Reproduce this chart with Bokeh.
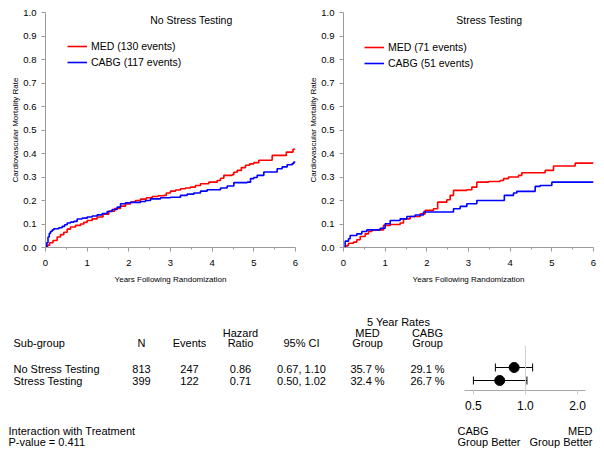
from bokeh.plotting import figure
from bokeh.layouts import row, column
from bokeh.models import (Range1d, FixedTicker, NumeralTickFormatter, Label, Span,
                          Whisker, ColumnDataSource, TeeHead)
from bokeh.core.properties import value
from bokeh.embed import file_html
from bokeh.resources import INLINE

FONT = "Liberation Sans"

# ---------------- data ----------------
# No stress testing
ns_med_t = [0, 0.05, 0.1, 0.18, 0.28, 0.36, 0.44, 0.52, 0.6, 0.72,
            0.84, 0.92, 1.0, 1.12, 1.24, 1.38, 1.52, 1.66, 1.8, 1.92,
            2.04, 2.16, 2.28, 2.42, 2.56, 2.7, 2.84, 2.9, 3.0, 3.12,
            3.24, 3.36, 3.48, 3.6, 3.72, 3.92, 4.12, 4.2, 4.28, 4.48,
            4.52, 4.6, 4.7, 4.8, 4.9, 5.0, 5.12, 5.44, 5.78, 5.94, 6.0]
ns_med_r = [0, 0.01, 0.02, 0.03, 0.045, 0.055, 0.065, 0.078, 0.087, 0.094,
            0.10, 0.107, 0.115, 0.122, 0.13, 0.142, 0.155, 0.166, 0.176, 0.185,
            0.193, 0.2, 0.206, 0.212, 0.217, 0.22, 0.222, 0.232, 0.24, 0.245,
            0.25, 0.253, 0.257, 0.264, 0.271, 0.278, 0.285, 0.295, 0.307, 0.31,
            0.32, 0.328, 0.34, 0.35, 0.356, 0.361, 0.371, 0.392, 0.406, 0.418, 0.418]
ns_cabg_t = [0, 0.03, 0.06, 0.09, 0.12, 0.16, 0.2, 0.32, 0.4, 0.46,
             0.52, 0.6, 0.68, 0.76, 0.88, 1.0, 1.12, 1.24, 1.36, 1.48,
             1.6, 1.72, 1.8, 1.92, 2.04, 2.28, 2.4, 2.52, 2.76, 3.0,
             3.24, 3.4, 3.56, 3.72, 3.88, 4.2, 4.36, 4.52, 4.84, 4.92,
             5.0, 5.08, 5.24, 5.56, 5.68, 5.8, 5.92, 5.96, 6.0]
ns_cabg_r = [0, 0.02, 0.045, 0.06, 0.068, 0.075, 0.08, 0.084, 0.09, 0.097,
             0.104, 0.108, 0.111, 0.121, 0.125, 0.13, 0.134, 0.139, 0.145, 0.153,
             0.162, 0.172, 0.186, 0.19, 0.192, 0.196, 0.2, 0.207, 0.212, 0.214,
             0.222, 0.227, 0.232, 0.24, 0.246, 0.253, 0.262, 0.276, 0.278, 0.293,
             0.298, 0.307, 0.321, 0.335, 0.343, 0.352, 0.357, 0.364, 0.364]

# Stress testing
st_med_t = [0, 0.08, 0.12, 0.24, 0.32, 0.4, 0.52, 0.6, 0.68, 0.96,
            1.12, 1.36, 1.44, 1.6, 1.84, 1.96, 2.16, 2.26, 2.48, 2.56,
            2.64, 2.96, 3.08, 3.2, 3.48, 3.76, 3.84, 3.96, 4.2, 4.28,
            4.84, 5.04, 5.56, 6.0]
st_med_r = [0, 0.009, 0.018, 0.023, 0.033, 0.047, 0.058, 0.068, 0.075, 0.094,
            0.098, 0.104, 0.122, 0.132, 0.143, 0.158, 0.165, 0.193, 0.203, 0.222,
            0.243, 0.246, 0.257, 0.278, 0.281, 0.285, 0.293, 0.30, 0.307, 0.318,
            0.328, 0.347, 0.359, 0.359]
st_cabg_t = [0, 0.04, 0.12, 0.16, 0.32, 0.44, 0.56, 0.88, 1.0, 1.12,
             1.36, 1.52, 1.72, 1.92, 2.64, 2.8, 2.96, 3.2, 3.86, 4.08,
             4.16, 4.6, 4.72, 5.0, 6.0]
st_cabg_r = [0, 0.027, 0.037, 0.051, 0.058, 0.068, 0.075, 0.082, 0.101, 0.115,
             0.122, 0.132, 0.138, 0.151, 0.165, 0.175, 0.186, 0.2, 0.222, 0.232,
             0.239, 0.26, 0.264, 0.278, 0.278]

x_ticks = [0, 1, 2, 3, 4, 5, 6]
x_minor = [0.5, 1.5, 2.5, 3.5, 4.5, 5.5]
y_ticks = [0, 0.1, 0.2, 0.3, 0.4, 0.5, 0.6, 0.7, 0.8, 0.9, 1.0]

# table / forest
subgroups = ["No Stress Testing", "Stress Testing"]
n_pts = [813, 399]
events = [247, 122]
hr = [0.86, 0.71]
ci_lo = [0.67, 0.50]
ci_hi = [1.10, 1.02]
rate_med = [35.7, 32.4]
rate_cabg = [29.1, 26.7]
p_interaction = 0.411
forest_ticks = [0.5, 1.0, 2.0]

AXIS_GRAY = "#9a9a9a"


def km_fig(title, tm, rm, tc, rc, lab_m, lab_c, width, left, right, legend_xy):
    p = figure(width=width, height=297, output_backend="svg", toolbar_location=None,
               x_range=Range1d(0, 6), y_range=Range1d(0, 1),
               min_border_left=left, min_border_right=right,
               min_border_top=12, min_border_bottom=50, frame_align=False)
    p.outline_line_color = None
    p.grid.visible = False
    p.step(tm, rm, mode="after", line_color="#ff0000", line_width=1.6, legend_label=lab_m)
    p.step(tc, rc, mode="after", line_color="#0000ff", line_width=1.6, legend_label=lab_c)
    p.xaxis.ticker = FixedTicker(ticks=x_ticks, minor_ticks=x_minor)
    p.yaxis.ticker = FixedTicker(ticks=y_ticks)
    p.yaxis.formatter = NumeralTickFormatter(format="0.0")
    for ax in p.axis:
        ax.axis_line_color = AXIS_GRAY
        ax.major_tick_line_color = AXIS_GRAY
        ax.minor_tick_line_color = AXIS_GRAY
        ax.major_tick_in = 0
        ax.major_tick_out = 4
        ax.minor_tick_in = 0
        ax.minor_tick_out = 2
        ax.major_label_text_font = FONT
        ax.major_label_text_font_size = "9.5px"
        ax.major_label_text_color = "#000000"
        ax.axis_label_text_font = FONT
        ax.axis_label_text_font_size = "8px"
        ax.axis_label_text_font_style = "normal"
        ax.axis_label_text_color = "#000000"
    p.yaxis.minor_tick_line_color = None
    p.yaxis.major_label_standoff = 5
    p.yaxis.axis_label_standoff = 0
    p.xaxis.major_label_standoff = 8
    p.xaxis.axis_label_standoff = 6
    p.yaxis.axis_label = "Cardiovascular Mortality Rate"
    p.xaxis.axis_label = "Years Following Randomization"
    p.add_layout(Label(x=3.5, y=0.97, text=title, text_align="center",
                       text_baseline="middle", text_font=FONT,
                       text_font_size="10.5px", text_color="#000000"))
    lg = p.legend[0]
    lg.location = legend_xy
    lg.border_line_color = None
    lg.background_fill_alpha = 0
    lg.padding = 0
    lg.margin = 0
    lg.spacing = 0
    lg.label_height = 16
    lg.glyph_height = 16
    lg.glyph_width = 20
    lg.label_standoff = 4
    lg.label_text_font = FONT
    lg.label_text_font_size = "10.5px"
    lg.label_text_color = "#000000"
    return p


km1 = km_fig("No Stress Testing", ns_med_t, ns_med_r, ns_cabg_t, ns_cabg_r,
             "MED (130 events)", "CABG (117 events)", 303, 45, 8, (22, 177))
km2 = km_fig("Stress Testing", st_med_t, st_med_r, st_cabg_t, st_cabg_r,
             "MED (71 events)", "CABG (51 events)", 299, 40, 9, (21, 176))

# ---------------- table ----------------
tab = figure(width=448, height=156, output_backend="svg", toolbar_location=None,
             x_range=Range1d(-8, 440), y_range=Range1d(155, -1),
             x_axis_location=None, y_axis_location=None, min_border=0,
             frame_align=False)
tab.outline_line_color = None
tab.grid.visible = False

COL_N, COL_EV, COL_HR, COL_CI, COL_MED, COL_CABG = 133, 181, 232, 293, 359, 419
ROW_Y0, ROW_DY = 70, 12.5

c_txt, c_x, c_y = [], [], []


def add_c(t, x, y):
    c_txt.append(t); c_x.append(x); c_y.append(y)


add_c("5 Year Rates", 390, 23)
add_c("Hazard", COL_HR, 34)
add_c("MED", COL_MED, 34)
add_c("CABG", COL_CABG, 34)
add_c("N", COL_N, 44)
add_c("Events", COL_EV, 44)
add_c("Ratio", COL_HR, 44)
add_c("95% CI", COL_CI, 44)
add_c("Group", COL_MED, 44)
add_c("Group", COL_CABG, 44)
for i in range(len(subgroups)):
    yy = ROW_Y0 + ROW_DY * i
    add_c(str(n_pts[i]), COL_N, yy)
    add_c(str(events[i]), COL_EV, yy)
    add_c(f"{hr[i]:.2f}", COL_HR, yy)
    add_c(f"{ci_lo[i]:.2f}, {ci_hi[i]:.2f}", COL_CI, yy)
    add_c(f"{rate_med[i]:.1f} %", COL_MED, yy)
    add_c(f"{rate_cabg[i]:.1f} %", COL_CABG, yy)

l_txt = ["Sub-group"] + subgroups + ["Interaction with Treatment", f"P-value = {p_interaction:.3f}"]
l_x = [5] + [5] * len(subgroups) + [0, 0]
l_y = [44] + [ROW_Y0 + ROW_DY * i for i in range(len(subgroups))] + [132, 143]

tab.text(x=c_x, y=c_y, text=c_txt, text_align="center", text_baseline="middle",
         text_font=value(FONT), text_font_size=value("11px"), text_color="#000000")
tab.text(x=l_x, y=l_y, text=l_txt, text_align="left", text_baseline="middle",
         text_font=value(FONT), text_font_size=value("11px"), text_color="#000000")

# ---------------- forest ----------------
ypos = [len(subgroups) - i for i in range(len(subgroups))]
fsrc = ColumnDataSource(dict(y=ypos, hr=hr, lo=ci_lo, hi=ci_hi))
forest = figure(width=154, height=121, output_backend="svg", toolbar_location=None,
                x_axis_type="log", x_range=Range1d(0.444, 2.225),
                y_range=Range1d(0.231, 3.692), y_axis_location=None,
                min_border_left=16, min_border_right=17,
                min_border_top=48, min_border_bottom=28, frame_align=False)
forest.outline_line_color = None
forest.grid.visible = False
forest.add_layout(Span(location=1.0, dimension="height", line_color="#cfcfcf", line_width=1))
wh = Whisker(base="y", lower="lo", upper="hi", dimension="width", source=fsrc,
             line_color="#000000", line_width=1)
wh.upper_head = TeeHead(size=8, line_color="#000000", line_width=1)
wh.lower_head = TeeHead(size=8, line_color="#000000", line_width=1)
forest.add_layout(wh)
forest.scatter("hr", "y", source=fsrc, size=10, color="#000000")
forest.xaxis.ticker = FixedTicker(ticks=forest_ticks, minor_ticks=[])
forest.xaxis.formatter = NumeralTickFormatter(format="0.0")
forest.xaxis.axis_line_color = "#aaaaaa"
forest.xaxis.major_tick_line_color = "#cccccc"
forest.xaxis.minor_tick_line_color = None
forest.xaxis.major_tick_in = 0
forest.xaxis.major_tick_out = 4
forest.xaxis.major_label_standoff = 6
forest.xaxis.major_label_text_font = FONT
forest.xaxis.major_label_text_font_size = "12px"
forest.xaxis.major_label_text_color = "#000000"

notes = figure(width=154, height=35, output_backend="svg", toolbar_location=None,
               x_range=Range1d(0, 154), y_range=Range1d(35, 0),
               x_axis_location=None, y_axis_location=None, min_border=0,
               frame_align=False)
notes.outline_line_color = None
notes.grid.visible = False
notes.text(x=[9, 9], y=[12, 23], text=["CABG", "Group Better"], text_align="left",
           text_baseline="middle", text_font=value(FONT), text_font_size=value("11px"),
           text_color="#000000")
notes.text(x=[144, 144], y=[12, 23], text=["MED", "Group Better"], text_align="right",
           text_baseline="middle", text_font=value(FONT), text_font_size=value("11px"),
           text_color="#000000")

layout = column(row(km1, km2), row(tab, column(forest, notes)))

open("out.html", "w").write(file_html(layout, INLINE))
